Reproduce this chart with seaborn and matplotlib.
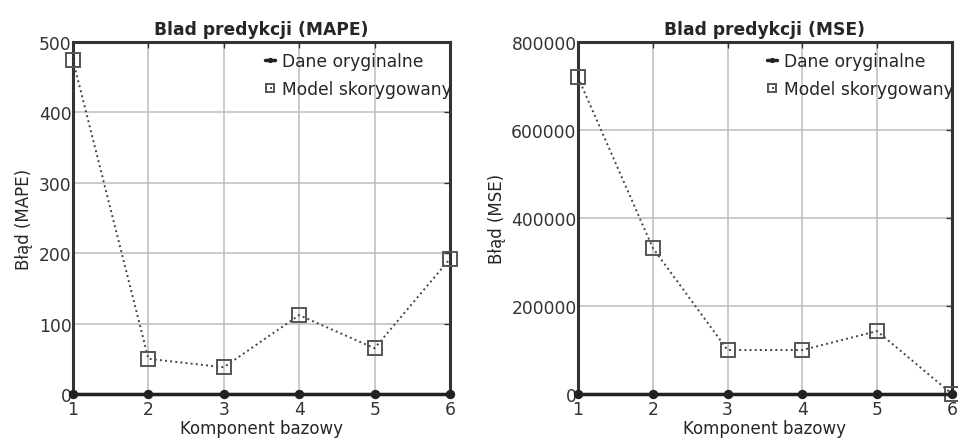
import matplotlib
matplotlib.use("Agg")
import matplotlib.pyplot as plt
import seaborn as sns
import pandas as pd

components = [1, 2, 3, 4, 5, 6]
mape_original = [0, 0, 0, 0, 0, 0]
mape_model = [474, 50, 38, 112, 65, 192]
mse_original = [0, 0, 0, 0, 0, 0]
mse_model = [720000, 332000, 100000, 100000, 143000, 0]
mape_yticks = [0, 100, 200, 300, 400, 500]
mse_yticks = [0, 200000, 400000, 600000, 800000]

sns.set_theme(style="white")
plt.rcParams['font.family'] = ['DejaVu Sans']

fig = plt.figure(figsize=(9.58, 4.39), dpi=100)
ax1 = fig.add_axes([0.0762, 0.1002, 0.3935, 0.8018])
ax2 = fig.add_axes([0.6033, 0.1002, 0.3904, 0.8018])


def draw(ax, orig, model, yticks, title, ylabel, legx):
    df = pd.DataFrame({"x": components, "orig": orig, "model": model})
    sns.lineplot(data=df, x="x", y="orig", ax=ax, color="#222222", lw=2.5,
                 marker="o", markersize=6, markeredgecolor="#222222",
                 label="Dane oryginalne", clip_on=False, zorder=5)
    sns.lineplot(data=df, x="x", y="model", ax=ax, color="#444444", lw=1.4,
                 linestyle=":", marker="s", markersize=10.5, markerfacecolor="none",
                 markeredgecolor="#555555", markeredgewidth=1.4,
                 label="Model skorygowany", clip_on=False, zorder=4)
    ax.set_xlim(1, 6)
    ax.set_ylim(yticks[0], yticks[-1])
    ax.set_xticks(components)
    ax.set_yticks(yticks)
    ax.grid(True, color="#bdbdbd", lw=1.1)
    for s in ax.spines.values():
        s.set_linewidth(2.2)
        s.set_color("#333333")
    ax.tick_params(axis="both", direction="in", length=4, width=1, colors="#333333",
                   labelcolor="#333333", labelsize=12.3, right=True, top=True)
    ax.tick_params(axis="y", pad=1)
    ax.tick_params(axis="x", pad=4)
    ax.set_title(title, fontsize=12.3, fontweight="bold", pad=6)
    ax.set_xlabel("Komponent bazowy", fontsize=12, labelpad=1)
    ax.set_ylabel(ylabel, fontsize=12, labelpad=4)
    ax.legend(loc="upper left", bbox_to_anchor=(legx, 0.972), frameon=False,
              fontsize=12.3, handlelength=0.6, handletextpad=0.4,
              labelspacing=0.62, markerscale=0.5, borderaxespad=0, borderpad=0)
    return ax


draw(ax1, mape_original, mape_model, mape_yticks, "Blad predykcji (MAPE)", "Błąd (MAPE)", 0.509)
draw(ax2, mse_original, mse_model, mse_yticks, "Blad predykcji (MSE)", "Błąd (MSE)", 0.505)

fig.savefig("out.png", dpi=100)
